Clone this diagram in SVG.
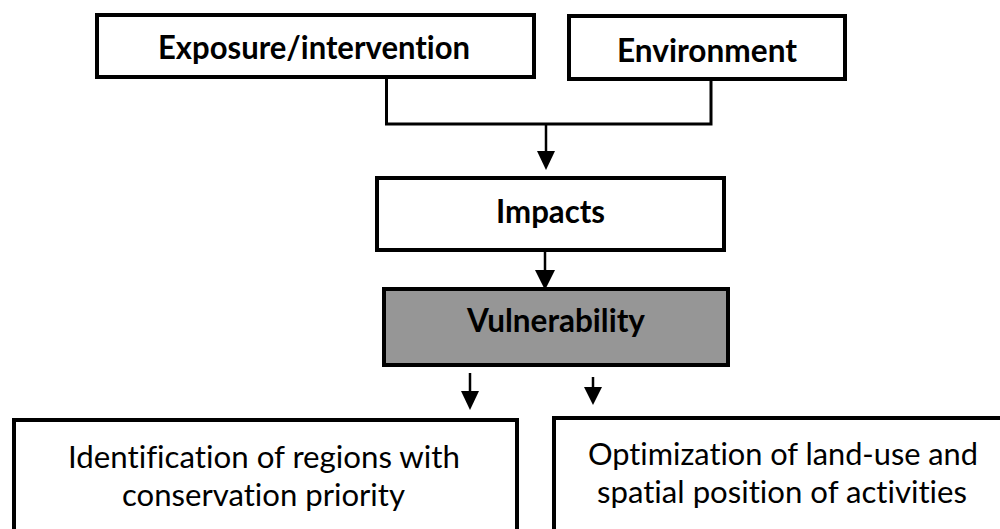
<svg xmlns="http://www.w3.org/2000/svg" width="1000" height="529" viewBox="0 0 1000 529">
<defs>
<style>
.box{fill:#ffffff;stroke:#000000;stroke-width:4}
.gray{fill:#969696}
.t{font-family:Lato,"Open Sans","Liberation Sans",sans-serif;fill:#000000;text-anchor:middle;font-variant-ligatures:none}
.b{font-weight:700;font-size:32px}
.r{font-weight:400;font-size:31px}
.ln{fill:none;stroke:#000000;stroke-width:3}
.ar{fill:none;stroke:#000000;stroke-width:2.5}
</style>
</defs>
<rect width="1000" height="529" fill="#ffffff"/>
<g id="connectors">
<path class="ln" d="M386.5,79 V124 H711 V81"/>
<line class="ar" x1="546" y1="125" x2="546" y2="152"/>
<polygon points="537,151 555,151 546,170" fill="#000"/>
<line class="ar" x1="545" y1="252" x2="545" y2="271"/>
<polygon points="535,270 555,270 545,290" fill="#000"/>
<line class="ar" x1="470" y1="373" x2="470" y2="392"/>
<polygon points="461,391 479,391 470,410" fill="#000"/>
<line class="ar" x1="593" y1="377" x2="593" y2="388"/>
<polygon points="584,387 602,387 593,405" fill="#000"/>
</g>
<g id="node-exposure">
<rect class="box" x="97" y="15" width="437" height="62"/>
<text class="t b" x="314" y="59" textLength="312" lengthAdjust="spacingAndGlyphs">Exposure/intervention</text>
</g>
<g id="node-environment">
<rect class="box" x="569" y="16" width="276" height="63"/>
<text class="t b" x="707" y="62" textLength="180" lengthAdjust="spacingAndGlyphs">Environment</text>
</g>
<g id="node-impacts">
<rect class="box" x="377" y="178" width="347" height="72"/>
<text class="t b" x="550.5" y="223" textLength="109" lengthAdjust="spacingAndGlyphs">Impacts</text>
</g>
<g id="node-vulnerability">
<rect class="box gray" x="384" y="289" width="344" height="76"/>
<text class="t b" x="556" y="332" textLength="178" lengthAdjust="spacingAndGlyphs">Vulnerability</text>
</g>
<g id="node-identification">
<rect class="box" x="14" y="420" width="503" height="130"/>
<text class="t r" x="264" y="468" textLength="392" lengthAdjust="spacingAndGlyphs">Identification of regions with</text>
<text class="t r" x="263.5" y="506" textLength="283" lengthAdjust="spacingAndGlyphs">conservation priority</text>
</g>
<g id="node-optimization">
<rect class="box" x="554" y="418" width="470" height="130"/>
<text class="t r" x="783" y="465" textLength="390" lengthAdjust="spacingAndGlyphs">Optimization of land-use and</text>
<text class="t r" x="782" y="503" textLength="370" lengthAdjust="spacingAndGlyphs">spatial position of activities</text>
</g>
</svg>
